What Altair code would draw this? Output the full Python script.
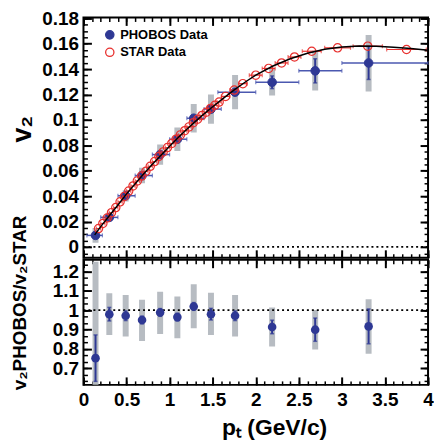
import altair as alt
import pandas as pd

FONT = "Liberation Sans"
BLUE = "#2e3894"
BLUE_LIGHT = "#4b58b0"
RED = "#e8302e"
GRAY = "#b7bcc2"

# ---------------- PHOBOS v2 (top panel) ----------------
ph_pt = [0.14, 0.30, 0.49, 0.68, 0.89, 1.09, 1.28, 1.48, 1.76, 2.19, 2.69, 3.31]
ph_v2 = [0.0091, 0.0233, 0.0403, 0.0562, 0.0727, 0.0848, 0.1013, 0.1085, 0.1218, 0.1296, 0.1386, 0.1448]
ph_stat = [0.0015, 0.001, 0.001, 0.001, 0.001, 0.001, 0.0015, 0.002, 0.002, 0.005, 0.0095, 0.013]
ph_xlo = [0.04, 0.20, 0.40, 0.60, 0.80, 1.00, 1.20, 1.40, 1.56, 2.00, 2.50, 3.00]
ph_xhi = [0.22, 0.40, 0.60, 0.80, 1.00, 1.20, 1.40, 1.60, 2.00, 2.50, 3.00, 4.00]
ph_syst_lo = [0.0033, 0.0207, 0.0358, 0.0502, 0.0647, 0.0755, 0.0900, 0.0970, 0.1083, 0.1191, 0.1231, 0.1223]
ph_syst_hi = [0.0150, 0.0259, 0.0448, 0.0624, 0.0807, 0.0941, 0.1126, 0.1200, 0.1353, 0.1401, 0.1546, 0.1668]

# ---------------- STAR v2 (top panel) ----------------
star_pt = [0.175, 0.225, 0.275, 0.325, 0.375, 0.425, 0.475, 0.525, 0.575, 0.625,
           0.675, 0.725, 0.775, 0.825, 0.875, 0.925, 0.975, 1.025, 1.075, 1.125,
           1.175, 1.225, 1.275, 1.325, 1.375, 1.425, 1.475, 1.525, 1.575, 1.65,
           1.75, 1.85, 2.0, 2.15, 2.3, 2.45, 2.65, 2.95, 3.3, 3.75]
star_v2 = [0.0145, 0.0185, 0.0228, 0.0270, 0.0310, 0.0355, 0.0398, 0.0440, 0.0480, 0.0520,
           0.0558, 0.0595, 0.0635, 0.0672, 0.0712, 0.0748, 0.0782, 0.0815, 0.0848, 0.0882,
           0.0915, 0.0945, 0.0978, 0.1005, 0.1035, 0.1060, 0.1090, 0.1115, 0.1140, 0.1185,
           0.1235, 0.1285, 0.1352, 0.1405, 0.1448, 0.1495, 0.1540, 0.1567, 0.1580, 0.1554]
star_xerr = [0.025] * 29 + [0.05, 0.05, 0.05, 0.075, 0.075, 0.075, 0.075, 0.11, 0.15, 0.17, 0.23]

# ---------------- fit curve ----------------
curve_pt = [0.13, 0.2, 0.3, 0.4, 0.5, 0.6, 0.7, 0.8, 0.9, 1.0, 1.1, 1.2, 1.3, 1.4, 1.5,
            1.6, 1.75, 1.9, 2.0, 2.2, 2.4, 2.6, 2.8, 3.0, 3.2, 3.4, 3.6, 3.8, 4.0]
curve_v2 = [0.0095, 0.0160, 0.0245, 0.0330, 0.0418, 0.0498, 0.0576, 0.0650, 0.0722, 0.0793,
            0.0862, 0.0926, 0.0988, 0.1047, 0.1103, 0.1157, 0.1236, 0.1308, 0.1352, 0.1424,
            0.1481, 0.1525, 0.1556, 0.1574, 0.1581, 0.1580, 0.1572, 0.1561, 0.1548]

# ---------------- ratio PHOBOS/STAR (bottom panel) ----------------
r_val = [0.752, 0.979, 0.971, 0.949, 0.988, 0.964, 1.019, 0.979, 0.971, 0.913, 0.899, 0.916]
r_stat = [0.12, 0.035, 0.025, 0.02, 0.02, 0.02, 0.02, 0.03, 0.025, 0.035, 0.06, 0.09]
r_syst_lo = [0.25, 0.872, 0.864, 0.840, 0.877, 0.855, 0.906, 0.872, 0.864, 0.812, 0.797, 0.775]
r_syst_hi = [1.25, 1.087, 1.078, 1.053, 1.095, 1.070, 1.133, 1.090, 1.078, 1.014, 1.000, 1.056]

ref_top = [0.0]
ref_bot = [1.0]
series_names = ["PHOBOS Data", "STAR Data"]

# axis tick values
x_major = [0, 0.5, 1, 1.5, 2, 2.5, 3, 3.5, 4]
x_minor = [round(i * 0.1, 2) for i in range(0, 41)]
yt_major = [0, 0.02, 0.04, 0.06, 0.08, 0.1, 0.12, 0.14, 0.16, 0.18]
yt_minor = [round(i * 0.005, 3) for i in range(-1, 37)]
yb_major = [0.7, 0.8, 0.9, 1.0, 1.1, 1.2]
yb_minor = [round(0.6 + i / 30, 4) for i in range(1, 20)]

# ---------------- frames ----------------
ph = pd.DataFrame(dict(pt=ph_pt, v2=ph_v2, xlo=ph_xlo, xhi=ph_xhi,
                       slo=ph_syst_lo, shi=ph_syst_hi))
ph["ylo"] = [v - e for v, e in zip(ph_v2, ph_stat)]
ph["yhi"] = [v + e for v, e in zip(ph_v2, ph_stat)]
ph["series"] = series_names[0]

st = pd.DataFrame(dict(pt=star_pt, v2=star_v2))
st["xlo"] = [p - e for p, e in zip(star_pt, star_xerr)]
st["xhi"] = [p + e for p, e in zip(star_pt, star_xerr)]
st["series"] = series_names[1]

cv = pd.DataFrame(dict(pt=curve_pt, v2=curve_v2))

rt = pd.DataFrame(dict(pt=ph_pt, r=r_val, slo=r_syst_lo, shi=r_syst_hi))
rt["ylo"] = [v - e for v, e in zip(r_val, r_stat)]
rt["yhi"] = [v + e for v, e in zip(r_val, r_stat)]

ph_xcaps = pd.concat([ph[["xlo", "v2"]].rename(columns={"xlo": "xc"}),
                      ph[["xhi", "v2"]].rename(columns={"xhi": "xc"})])
ph_ycaps = pd.concat([ph[["pt", "ylo"]].rename(columns={"ylo": "yc"}),
                      ph[["pt", "yhi"]].rename(columns={"yhi": "yc"})])
st_xcaps = pd.concat([st[["xlo", "v2"]].rename(columns={"xlo": "xc"}),
                      st[["xhi", "v2"]].rename(columns={"xhi": "xc"})])
rt_ycaps = pd.concat([rt[["pt", "ylo"]].rename(columns={"ylo": "yc"}),
                      rt[["pt", "yhi"]].rename(columns={"yhi": "yc"})])

# ---------------- scales ----------------
xs = alt.Scale(domain=[0, 4], nice=False, zero=False)
yts = alt.Scale(domain=[-0.0085, 0.1806], nice=False, zero=False)
ybs = alt.Scale(domain=[0.614, 1.26], nice=False, zero=False)

W = 347


def X(f, axis=None):
    return alt.X(f, type="quantitative", scale=xs, axis=axis)


def Yt(f, axis=None):
    return alt.Y(f, type="quantitative", scale=yts, axis=axis)


def Yb(f, axis=None):
    return alt.Y(f, type="quantitative", scale=ybs, axis=axis)


def tick_axis(orient, values, size, width):
    return alt.Axis(orient=orient, values=values, offset=-size, tickSize=size,
                    tickWidth=width, tickColor="black", ticks=True, labels=False,
                    domain=False, grid=False, title=None)


LBL = dict(labelFont=FONT, labelFontSize=19, labelFontWeight="bold", labelColor="black",
           ticks=False, domain=False, grid=False, format="~g")

yt_label_axis = alt.Axis(orient="left", values=yt_major, labelPadding=5, title="v₂",
                         titleFont=FONT, titleFontSize=27, titleFontWeight="bold",
                         titleColor="black", titleX=-61, titleY=112, titleAngle=270,
                         titleAlign="center", titleBaseline="middle", **LBL)
yb_label_axis = alt.Axis(orient="left", values=yb_major, labelPadding=5,
                         title="v₂PHOBOS/v₂STAR",
                         titleFont=FONT, titleFontSize=19, titleFontWeight="bold",
                         titleColor="black", titleX=-64, titleY=43, titleAngle=270,
                         titleAlign="center", titleBaseline="middle", **LBL)
xb_label_axis = alt.Axis(orient="bottom", values=x_major, labelPadding=6, labelFlush=False,
                         title="pₜ (GeV/c)", titleFont=FONT, titleFontSize=23,
                         titleFontWeight="bold", titleColor="black", titleX=192, titleY=32,
                         titleAlign="center", titleBaseline="top", **LBL)


def axis_layer(df, xf, yf, yenc, xaxis, yaxis):
    return alt.Chart(df).mark_point(opacity=0).encode(x=X(xf, xaxis), y=yenc(yf, yaxis))


legend = alt.Legend(title=None, orient="none", legendX=20, legendY=11, padding=0,
                    labelFont=FONT, labelFontSize=13, labelFontWeight="bold",
                    labelColor="black", symbolSize=70, symbolStrokeWidth=1.3,
                    symbolType="circle", rowPadding=2.6, labelOffset=4)
cscale = alt.Scale(domain=series_names, range=[BLUE, RED])
fscale = alt.Scale(domain=series_names, range=[BLUE, "transparent"])

# ---------------- top panel ----------------
t_boxes = alt.Chart(ph).mark_rule(color=GRAY, strokeWidth=6, clip=True).encode(
    x=X("pt"), y=Yt("slo"), y2="shi")
t_zero = alt.Chart(pd.DataFrame({"y": ref_top})).mark_rule(
    color="black", strokeDash=[2, 3], strokeWidth=1.8).encode(y=Yt("y"))
t_phx = alt.Chart(ph).mark_rule(color=BLUE_LIGHT, strokeWidth=1.5).encode(
    x=X("xlo"), x2="xhi", y=Yt("v2"))
t_phxc = alt.Chart(ph_xcaps).mark_tick(orient="vertical", size=4, thickness=1.2,
                                       color=BLUE_LIGHT).encode(x=X("xc"), y=Yt("v2"))
t_phy = alt.Chart(ph).mark_rule(color=BLUE, strokeWidth=2).encode(
    x=X("pt"), y=Yt("ylo"), y2="yhi")
t_phyc = alt.Chart(ph_ycaps).mark_tick(orient="horizontal", size=4, thickness=1.5,
                                       color=BLUE).encode(x=X("pt"), y=Yt("yc"))
t_php = alt.Chart(ph).mark_point(shape="circle", size=75, strokeWidth=1, opacity=1).encode(
    x=X("pt"), y=Yt("v2"),
    color=alt.Color("series:N", scale=cscale, legend=legend),
    fill=alt.Fill("series:N", scale=fscale, legend=legend))
t_stx = alt.Chart(st).mark_rule(color=RED, strokeWidth=1.2).encode(
    x=X("xlo"), x2="xhi", y=Yt("v2"))
t_stxc = alt.Chart(st_xcaps).mark_tick(orient="vertical", size=4, thickness=1.2,
                                       color=RED).encode(x=X("xc"), y=Yt("v2"))
t_stp = alt.Chart(st).mark_point(shape="circle", size=70, strokeWidth=1.2, opacity=1).encode(
    x=X("pt"), y=Yt("v2"),
    color=alt.Color("series:N", scale=cscale, legend=legend),
    fill=alt.Fill("series:N", scale=fscale, legend=legend))
t_curve = alt.Chart(cv).mark_line(color="black", strokeWidth=1.5, clip=True).encode(
    x=X("pt"), y=Yt("v2"))

t_ax = [
    axis_layer(ph, "pt", "v2", Yt, None, yt_label_axis),
    axis_layer(ph, "pt", "v2", Yt, tick_axis("bottom", x_major, 8, 2), tick_axis("left", yt_major, 8, 2)),
    axis_layer(ph, "pt", "v2", Yt, tick_axis("bottom", x_minor, 4, 1.5), tick_axis("left", yt_minor, 4, 1.5)),
    axis_layer(ph, "pt", "v2", Yt, tick_axis("top", x_major, 8, 2), tick_axis("right", yt_major, 8, 2)),
    axis_layer(ph, "pt", "v2", Yt, tick_axis("top", x_minor, 4, 1.5), tick_axis("right", yt_minor, 4, 1.5)),
]

top = alt.layer(t_boxes, t_zero, t_phx, t_phxc, t_phy, t_phyc, t_php,
                t_stx, t_stxc, t_stp, t_curve, *t_ax).resolve_axis(
    x="independent", y="independent").properties(width=W, height=242)

# ---------------- bottom panel ----------------
b_boxes = alt.Chart(rt).mark_rule(color=GRAY, strokeWidth=6, clip=True).encode(
    x=X("pt"), y=Yb("slo"), y2="shi")
b_one = alt.Chart(pd.DataFrame({"y": ref_bot})).mark_rule(
    color="black", strokeDash=[2, 3], strokeWidth=1.8).encode(y=Yb("y"))
b_y = alt.Chart(rt).mark_rule(color=BLUE, strokeWidth=2, clip=True).encode(
    x=X("pt"), y=Yb("ylo"), y2="yhi")
b_yc = alt.Chart(rt_ycaps).mark_tick(orient="horizontal", size=4, thickness=1.5,
                                     color=BLUE).encode(x=X("pt"), y=Yb("yc"))
b_p = alt.Chart(rt).mark_point(shape="circle", size=75, filled=True, color=BLUE,
                               opacity=1).encode(x=X("pt"), y=Yb("r"))

b_ax = [
    axis_layer(rt, "pt", "r", Yb, xb_label_axis, yb_label_axis),
    axis_layer(rt, "pt", "r", Yb, tick_axis("bottom", x_major, 8, 2), tick_axis("left", yb_major, 8, 2)),
    axis_layer(rt, "pt", "r", Yb, tick_axis("bottom", x_minor, 4, 1.5), tick_axis("left", yb_minor, 4, 1.5)),
    axis_layer(rt, "pt", "r", Yb, tick_axis("top", x_major, 8, 2), tick_axis("right", yb_major, 8, 2)),
    axis_layer(rt, "pt", "r", Yb, tick_axis("top", x_minor, 4, 1.5), tick_axis("right", yb_minor, 4, 1.5)),
]

bottom = alt.layer(b_boxes, b_one, b_y, b_yc, b_p, *b_ax).resolve_axis(
    x="independent", y="independent").properties(width=W, height=126)

chart = alt.vconcat(top, bottom, spacing=2, bounds="flush").resolve_scale(
    color="independent", fill="independent").properties(
    padding={"left": 0, "top": -2, "right": -1, "bottom": 0}
).configure_view(stroke="black", strokeWidth=2)

chart.save("out.html", embed_options={"renderer": "svg", "actions": False})
